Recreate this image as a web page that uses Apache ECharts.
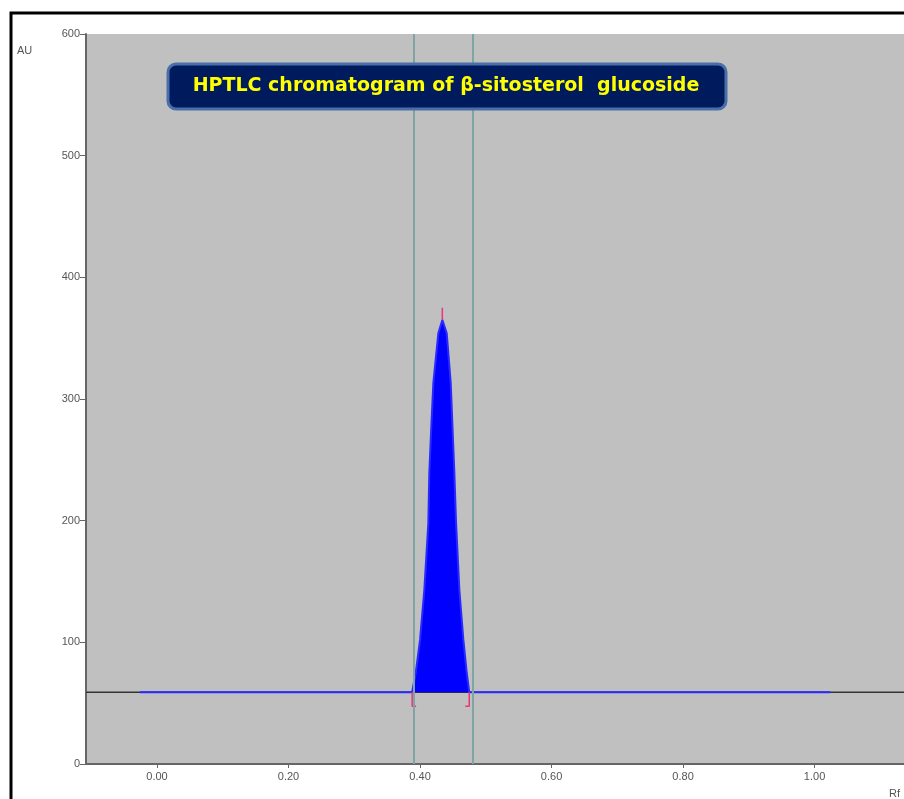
<!DOCTYPE html>
<html>
<head>
<meta charset="utf-8">
<script src="https://cdn.jsdelivr.net/npm/echarts@6/dist/echarts.min.js"></script>
<style>
  html, body { margin: 0; padding: 0; background: #fff; }
  #main { width: 904px; height: 799px; }
</style>
</head>
<body>
<div id="main"></div>
<script>
// 数据
var xTicks = [0, 0.2, 0.4, 0.6, 0.8, 1.0]
var baseAU = 59
// scan: baseline + peak outline (Rf, AU)
var scanRf = [-0.026, 0.388, 0.3935, 0.400, 0.4065, 0.4126, 0.4141, 0.4167, 0.4202, 0.4278, 0.4339,
  0.4406, 0.4467, 0.4497, 0.4522, 0.4548, 0.4598, 0.4659, 0.471, 0.4748, 1.024]
var scanAU = [59, 59, 75, 102, 143, 198, 239, 272, 313, 354, 365,
  354, 313, 272, 239, 198, 143, 102, 75, 59, 59]
var peakStart = 0.386
var peakEnd = 0.476
var peakTop = [0.4339, 365, 375]

var chart = echarts.init(document.getElementById('main'))

var scanData = scanRf.map(function (x, i) { return [x, scanAU[i]] })

var option = {
  animation: false,
  backgroundColor: '#ffffff',
  grid: { left: 86, top: 34, right: 0, bottom: 35, show: true, backgroundColor: '#c0c0c0', borderWidth: 0 },
  xAxis: {
    type: 'value',
    min: -0.108,
    max: 1.136,
    splitLine: { show: false },
    axisLine: { onZero: false, lineStyle: { color: '#666', width: 2 } },
    axisTick: { show: true, length: 4, lineStyle: { color: '#666' }, customValues: xTicks },
    axisLabel: {
      color: '#555', fontSize: 11, fontFamily: 'Arial', margin: 7,
      customValues: xTicks,
      formatter: function (v) { return v.toFixed(2) }
    }
  },
  yAxis: {
    type: 'value',
    min: 0,
    max: 600,
    interval: 100,
    splitLine: { show: false },
    axisLine: { show: true, onZero: false, lineStyle: { color: '#666', width: 2 } },
    axisTick: { show: true, length: 6, lineStyle: { color: '#666' } },
    axisLabel: { color: '#555', fontSize: 11, fontFamily: 'Arial', margin: 6 }
  },
  series: [
    {
      // black baseline across whole plot
      type: 'line',
      symbol: 'none',
      silent: true,
      data: [[-0.108, baseAU], [1.136, baseAU]],
      lineStyle: { color: '#333', width: 1.5 },
      z: 1
    },
    {
      type: 'line',
      symbol: 'none',
      data: scanData,
      lineStyle: { color: '#2a2aff', width: 2 },
      itemStyle: { color: '#0000ff' },
      areaStyle: { color: '#0000ff', opacity: 1, origin: baseAU },
      z: 3,
      markLine: {
        silent: true,
        symbol: 'none',
        label: { show: false },
        lineStyle: { color: '#80a4a4', width: 2, type: 'solid' },
        data: [{ xAxis: peakStart }, { xAxis: peakEnd }]
      }
    },
    {
      // peak markers (pink)
      type: 'line',
      symbol: 'none',
      silent: true,
      data: [[peakTop[0], peakTop[1]], [peakTop[0], peakTop[2]]],
      lineStyle: { color: '#e8357f', width: 1.5 },
      z: 4
    },
    {
      type: 'line',
      symbol: 'none',
      silent: true,
      data: [[0.388, baseAU], [0.388, 47.5], [0.394, 47.5]],
      lineStyle: { color: '#e8357f', width: 1.5 },
      z: 4
    },
    {
      type: 'line',
      symbol: 'none',
      silent: true,
      data: [[0.4748, baseAU], [0.4748, 47.5], [0.4688, 47.5]],
      lineStyle: { color: '#e8357f', width: 1.5 },
      z: 4
    }
  ],
  graphic: [
    {
      type: 'rect',
      shape: { x: 11, y: 13, width: 1000, height: 1000 },
      style: { fill: 'none', stroke: '#000', lineWidth: 3 },
      z: 100,
      silent: true
    },
    {
      type: 'text',
      left: 17, top: 45,
      style: { text: 'AU', fill: '#555', font: '11px Arial' },
      silent: true
    },
    {
      type: 'text',
      left: 889, top: 788,
      style: { text: 'Rf', fill: '#555', font: '11px Arial' },
      silent: true
    },
    {
      type: 'rect',
      shape: { x: 168, y: 64, width: 558, height: 45, r: 8 },
      style: { fill: '#001a5e', stroke: '#4a6ea8', lineWidth: 3 },
      z: 50,
      silent: true
    },
    {
      type: 'text',
      x: 446, y: 86,
      style: {
        text: 'HPTLC chromatogram of β-sitosterol  glucoside',
        fill: '#ffff00',
        font: 'bold 19px "DejaVu Sans"',
        align: 'center',
        verticalAlign: 'middle'
      },
      z: 51,
      silent: true
    }
  ]
}

chart.setOption(option)
</script>
</body>
</html>
